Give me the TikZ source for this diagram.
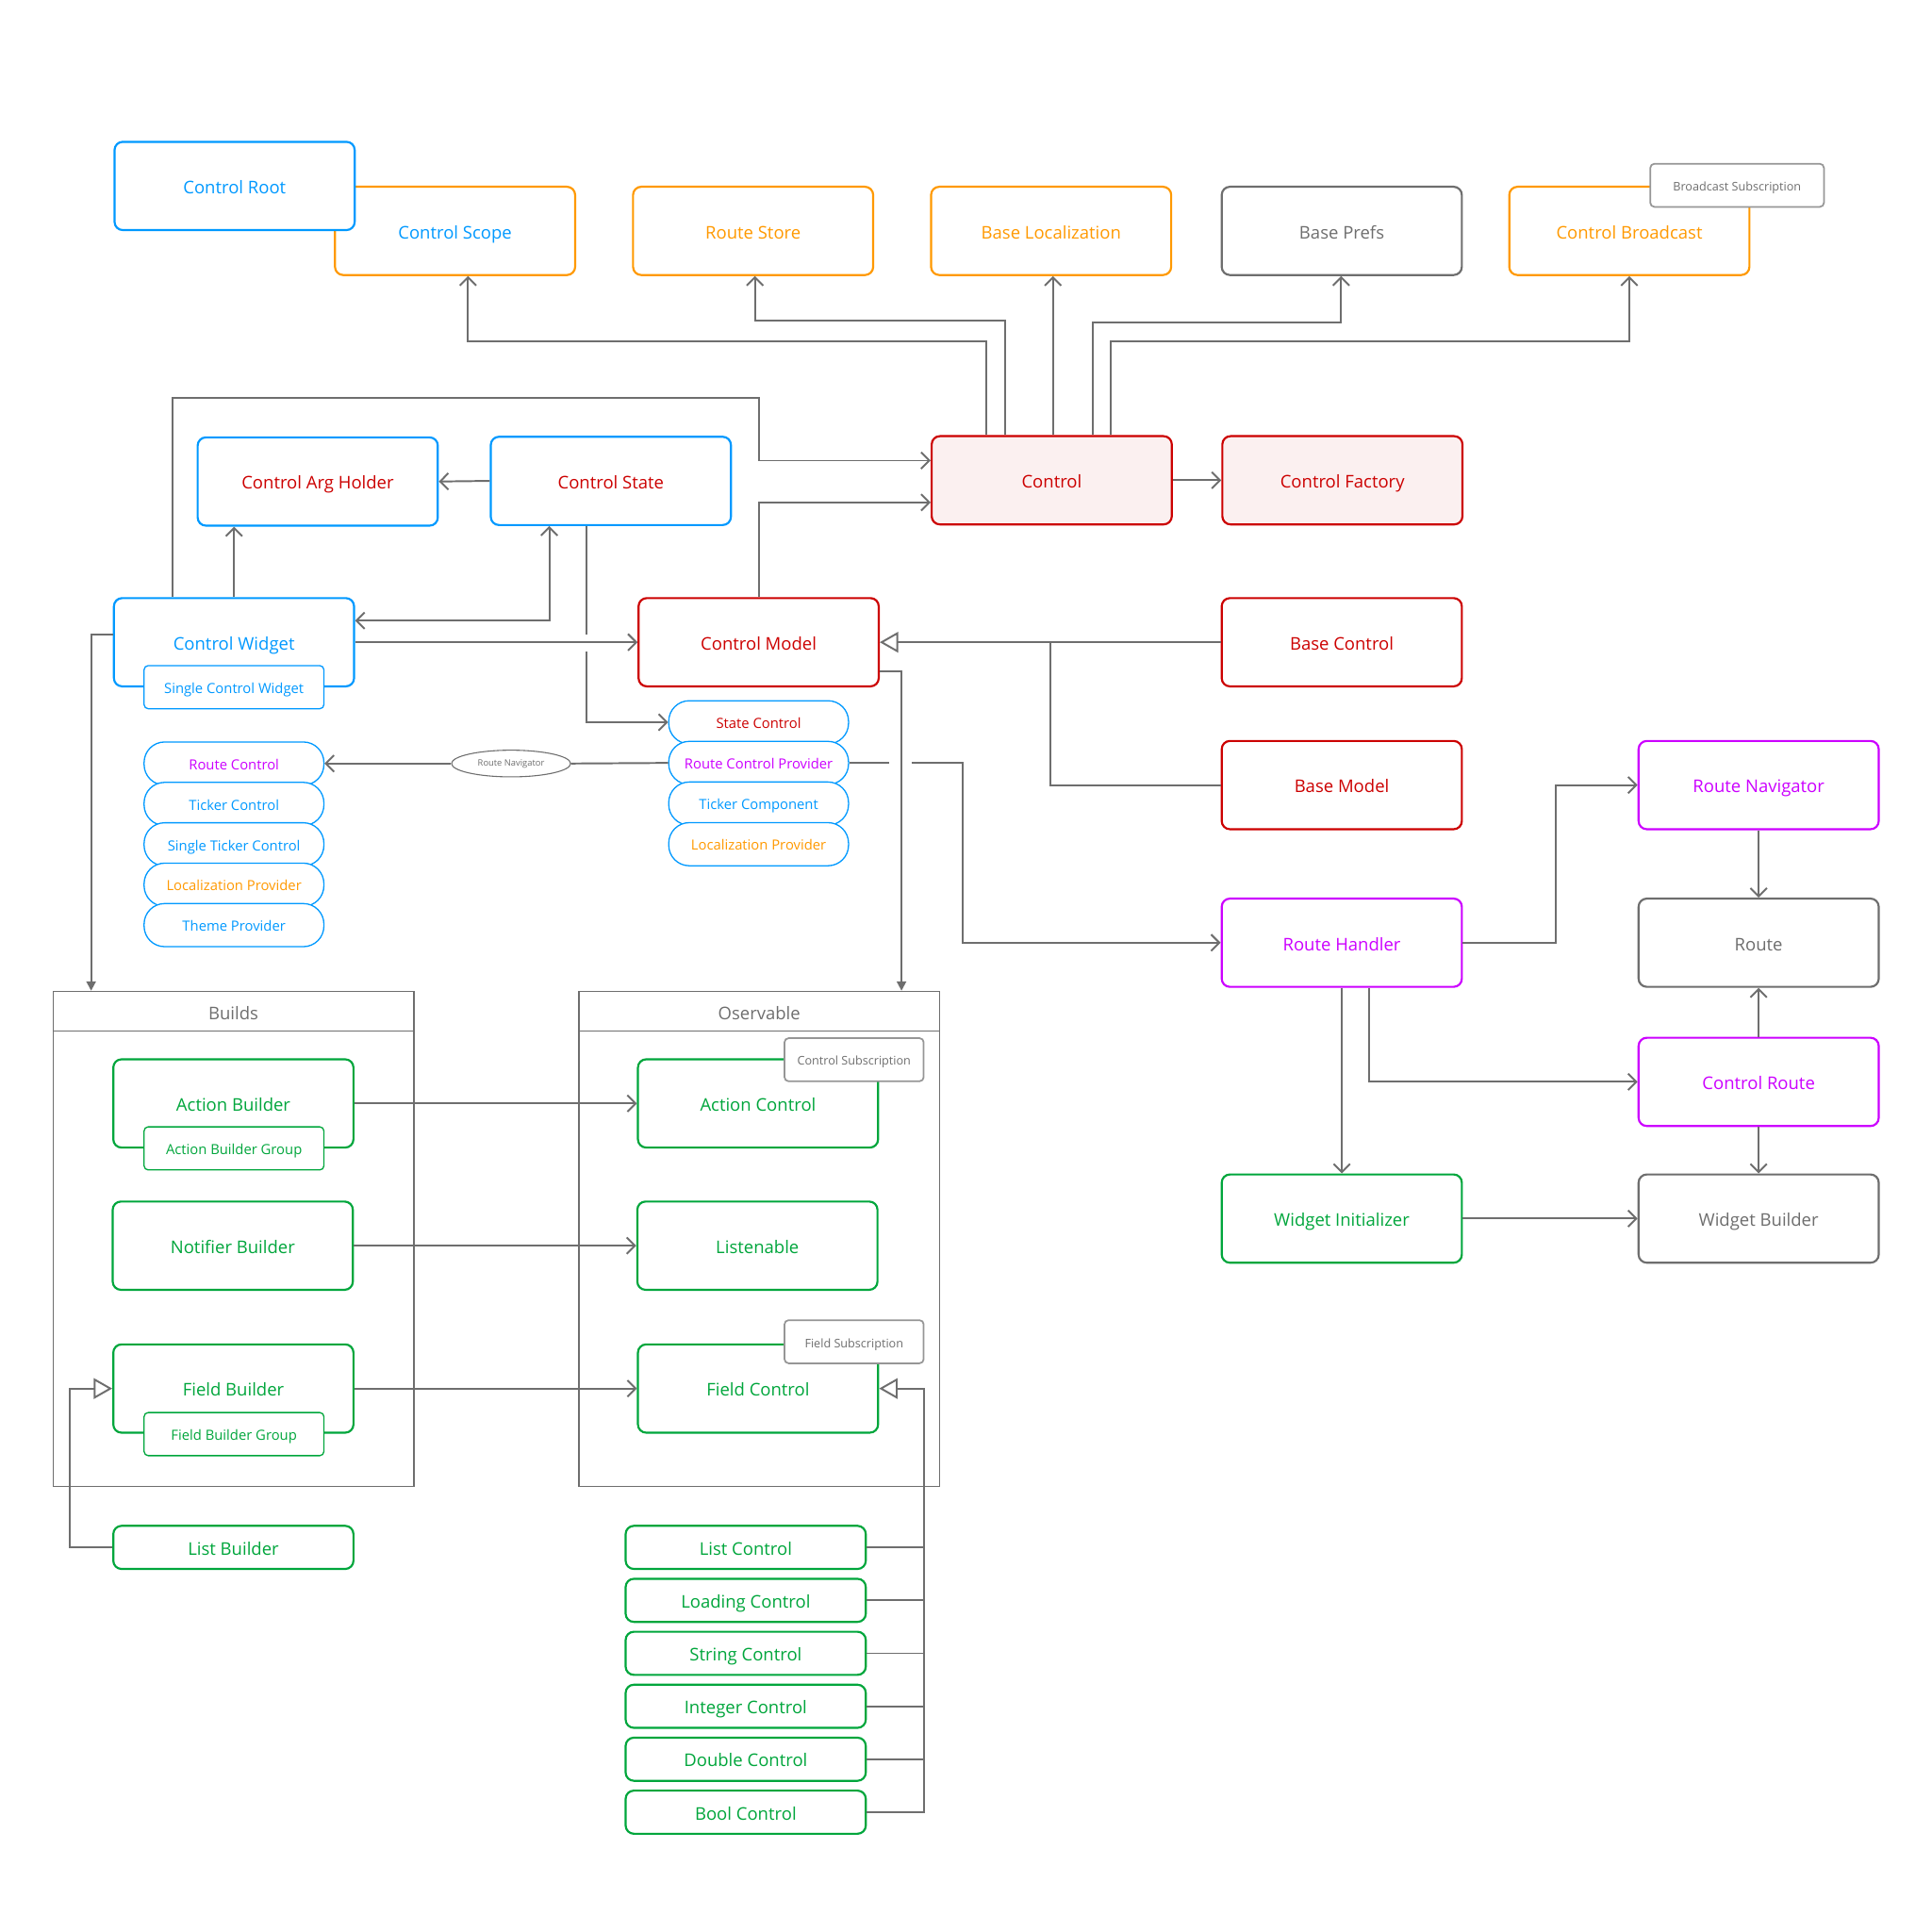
\documentclass[tikz,border=0pt]{standalone}
\usepackage{fontspec}
\setmainfont{Open Sans}
\usetikzlibrary{arrows.meta,shapes.geometric}

\definecolor{cblue}{RGB}{0,153,255}
\definecolor{corange}{RGB}{255,153,0}
\definecolor{cred}{RGB}{204,0,0}
\definecolor{cpink}{RGB}{251,240,240}
\definecolor{cviolet}{RGB}{204,0,255}
\definecolor{cgreen}{RGB}{0,166,60}
\definecolor{cgray}{RGB}{110,110,110}
\definecolor{ctag}{RGB}{150,150,150}

\begin{document}
\begin{tikzpicture}[x=0.6pt, y=-0.6pt,
    box/.style={draw=#1, text=#1, fill=white, rounded corners=4pt, line width=1pt,
        minimum width=117pt, minimum height=43pt, inner sep=1pt, text height=7.5pt, text depth=0pt,
        font=\fontsize{8.5}{10}\selectfont},
    slim/.style={box=#1, minimum height=21pt},
    sub/.style={draw=#1, text=#1, fill=white, rounded corners=2pt, line width=0.6pt,
        minimum width=87.6pt, minimum height=21pt, inner sep=1pt, text height=6pt, text depth=0pt,
        font=\fontsize{6.8}{8}\selectfont},
    pill/.style={sub=cblue, text=#1, rounded corners=10pt},
    tag/.style={draw=ctag, text=cgray, fill=white, rounded corners=2pt, line width=0.8pt,
        minimum height=21pt, inner sep=1pt, text height=5.5pt, text depth=0pt,
        font=\fontsize{5.8}{7}\selectfont},
    group/.style={draw=cgray, line width=0.6pt, minimum width=175.8pt, minimum height=241.2pt, inner sep=0pt},
    wire/.style={draw=cgray, line width=0.9pt},
    arr/.style={-{Straight Barb[length=4pt,width=8pt]}},
    dbl/.style={{Straight Barb[length=4pt,width=8pt]}-{Straight Barb[length=4pt,width=8pt]}},
    inh/.style={-{Triangle[open,length=9pt,width=10pt,fill=white]}},
    fillarr/.style={-{Triangle[length=4.5pt,width=4.5pt]}}]

    \useasboundingbox (0,0) rectangle (1568,1568);

    % Gruppen
    \node[group] (builds) at (189.5,1006) {};
    \node[group] (oserv) at (616.5,1006) {};
    \draw[cgray, line width=0.6pt] (builds.west |- 0,837) -- (builds.east |- 0,837);
    \draw[cgray, line width=0.6pt] (oserv.west |- 0,837) -- (oserv.east |- 0,837);
    \node[text=cgray, text height=7.5pt, text depth=0pt, font=\fontsize{8.5}{10}\selectfont] (buildstitle) at (189.5,822) {Builds};
    \node[text=cgray, text height=7.5pt, text depth=0pt, font=\fontsize{8.5}{10}\selectfont] (oservtitle) at (616.5,822) {Oservable};

    % obere Reihe
    \node[box=corange, text=cblue] (scope) at (369.5,187.5) {Control Scope};
    \node[box=cblue] (root) at (190.5,151) {Control Root};
    \node[box=corange] (store) at (611.5,187.5) {Route Store};
    \node[box=corange] (baseloc) at (853.5,187.5) {Base Localization};
    \node[box=cgray] (prefs) at (1089.5,187.5) {Base Prefs};
    \node[box=corange] (bcast) at (1323,187.5) {Control Broadcast};
    \node[tag, minimum width=84.6pt] (bsub) at (1410.5,150.5) {Broadcast Subscription};

    % Control
    \node[box=cblue, text=cred] (argholder) at (258,391) {Control Arg Holder};
    \node[box=cblue, text=cred] (state) at (496,390.5) {Control State};
    \node[box=cred, fill=cpink] (ctrl) at (854,390) {Control};
    \node[box=cred, fill=cpink] (factory) at (1090,390) {Control Factory};

    % Widget und Model
    \node[box=cblue] (widget) at (190,521.5) {Control Widget};
    \node[sub=cblue] (single) at (190,558) {Single Control Widget};
    \node[box=cred] (model) at (616,521.5) {Control Model};
    \node[box=cred] (basectrl) at (1089.5,521.5) {Base Control};
    \node[box=cred] (basemodel) at (1089.5,637.5) {Base Model};

    % Provider
    \node[pill=cred] (stctrl) at (616,586.5) {State Control};
    \node[pill=cviolet] (rcprov) at (616,619.5) {Route Control Provider};
    \node[pill=cblue] (tickcomp) at (616,652.5) {Ticker Component};
    \node[pill=corange] (locprovr) at (616,685.5) {Localization Provider};

    \node[pill=cviolet] (rctrl) at (190,620) {Route Control};
    \node[pill=cblue] (tickctrl) at (190,652.8) {Ticker Control};
    \node[pill=cblue] (stick) at (190,685.6) {Single Ticker Control};
    \node[pill=corange] (locprovl) at (190,718.4) {Localization Provider};
    \node[pill=cblue] (theme) at (190,751.2) {Theme Provider};

    % Routen
    \node[box=cviolet] (routenav) at (1428,637.5) {Route Navigator};
    \node[box=cviolet] (handler) at (1089.5,765.5) {Route Handler};
    \node[box=cgray] (route) at (1428,765.5) {Route};
    \node[box=cviolet] (ctrlroute) at (1428,878.5) {Control Route};
    \node[box=cgreen] (winit) at (1089.5,989.5) {Widget Initializer};
    \node[box=cgray] (wbuilder) at (1428,989.5) {Widget Builder};

    % Builds
    \node[box=cgreen] (abuild) at (189.5,896) {Action Builder};
    \node[sub=cgreen] (abgroup) at (190,932.5) {Action Builder Group};
    \node[box=cgreen] (nbuild) at (189,1011.5) {Notifier Builder};
    \node[box=cgreen] (fbuild) at (189.5,1127.5) {Field Builder};
    \node[sub=cgreen] (fbgroup) at (190,1164.5) {Field Builder Group};
    \node[slim=cgreen] (lbuild) at (189.5,1256.5) {List Builder};

    % Oservable
    \node[box=cgreen] (actrl) at (615.5,896) {Action Control};
    \node[tag, minimum width=67.8pt] (csub) at (693.5,860.5) {Control Subscription};
    \node[box=cgreen] (listen) at (615,1011.5) {Listenable};
    \node[box=cgreen] (fctrl) at (615.5,1127.5) {Field Control};
    \node[tag, minimum width=67.8pt] (fsub) at (693.5,1089.5) {Field Subscription};

    \node[slim=cgreen] (lctrl) at (605.5,1256.5) {List Control};
    \node[slim=cgreen] (loadctrl) at (605.5,1299.5) {Loading Control};
    \node[slim=cgreen] (strctrl) at (605.5,1342.5) {String Control};
    \node[slim=cgreen] (intctrl) at (605.5,1385.5) {Integer Control};
    \node[slim=cgreen] (dblctrl) at (605.5,1428.5) {Double Control};
    \node[slim=cgreen] (boolctrl) at (605.5,1471.5) {Bool Control};

    % Control nach oben
    \draw[wire, arr] (801,0 |- ctrl.north) |- (380,277) -- (380,0 |- scope.south);
    \draw[wire, arr] (816,0 |- ctrl.north) |- (613,260) -- (613,0 |- store.south);
    \draw[wire, arr] (855,0 |- ctrl.north) -- (855,0 |- baseloc.south);
    \draw[wire, arr] (887,0 |- ctrl.north) |- (1089,262) -- (1089,0 |- prefs.south);
    \draw[wire, arr] (902,0 |- ctrl.north) |- (1323,277) -- (1323,0 |- bcast.south);
    \draw[wire, arr] (ctrl.east) -- (factory.west);

    % Widget, State, Model
    \draw[wire, arr] (140,0 |- widget.north) |- (616,323) |- (ctrl.west |- 0,374);
    \draw[wire, arr] (model.north) |- (ctrl.west |- 0,408);
    \draw[wire, arr] (state.west) -- (argholder.east);
    \draw[wire, arr] (190,0 |- widget.north) -- (190,0 |- argholder.south);
    \draw[wire, dbl] (widget.east |- 0,504) -| (446,0 |- state.south);
    \draw[wire, arr] (476,0 |- state.south) -- (476,515) ++(0,14) |- (stctrl.west);
    \draw[wire, arr] (widget.east) -- (model.west);
    \draw[wire, inh] (basectrl.west) -- (model.east);
    \draw[wire] (basemodel.west) -| (853,0 |- basectrl.west);

    % Route Navigator
    \node[draw=cgray, fill=white, ellipse, line width=0.5pt, minimum width=58pt, minimum height=13pt,
        inner sep=0pt, text=cgray, font=\fontsize{4.3}{5}\selectfont] (navlabel) at (415,620) {Route Navigator};
    \draw[wire] (rcprov.west) -- (navlabel.east);
    \draw[wire, arr] (navlabel.west) -- (rctrl.east);
    \draw[wire, arr] (rcprov.east) -- (722,0 |- rcprov.east) ++(18,0) -- (782,0 |- rcprov.east) |- (handler.west);

    % zu den Gruppen
    \draw[wire, fillarr] (model.east |- 0,545) -| (732,0 |- oserv.north);
    \draw[wire, fillarr] (widget.west |- 0,515) -| (74,0 |- builds.north);

    % Builds nach Oservable
    \draw[wire, arr] (abuild.east) -- (actrl.west);
    \draw[wire, arr] (nbuild.east) -- (listen.west);
    \draw[wire, arr] (fbuild.east) -- (fctrl.west);
    \draw[wire, inh] (lbuild.west) -- (57,0 |- lbuild.west) |- (fbuild.west);

    % Controls
    \draw[wire, inh] (boolctrl.east) -- (750,0 |- boolctrl.east) |- (fctrl.east);
    \draw[wire] (lctrl.east) -- (750,0 |- lctrl.east);
    \draw[wire] (loadctrl.east) -- (750,0 |- loadctrl.east);
    \draw[wire] (strctrl.east) -- (750,0 |- strctrl.east);
    \draw[wire] (intctrl.east) -- (750,0 |- intctrl.east);
    \draw[wire] (dblctrl.east) -- (750,0 |- dblctrl.east);

    % Routen
    \draw[wire, arr] (handler.east) -- (1263,0 |- handler.east) |- (routenav.west);
    \draw[wire, arr] (routenav.south) -- (route.north);
    \draw[wire, arr] (ctrlroute.north) -- (route.south);
    \draw[wire, arr] (handler.south) -- (winit.north);
    \draw[wire, arr] (1112,0 |- handler.south) |- (ctrlroute.west);
    \draw[wire, arr] (ctrlroute.south) -- (wbuilder.north);
    \draw[wire, arr] (winit.east) -- (wbuilder.west);
\end{tikzpicture}
\end{document}
